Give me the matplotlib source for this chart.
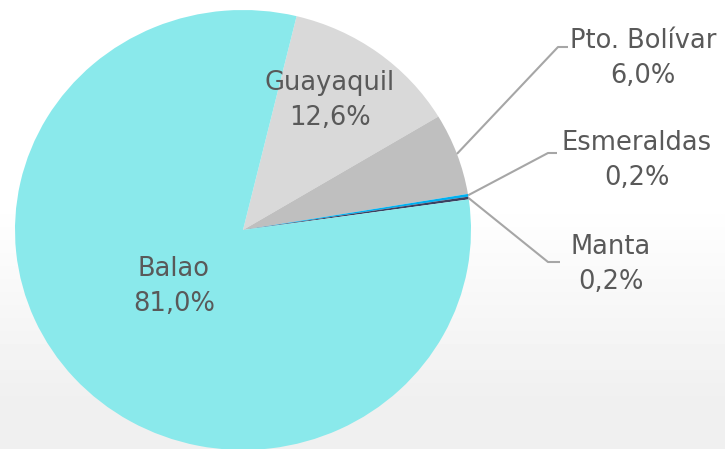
import numpy as np
import matplotlib.pyplot as plt

# shares by port, clockwise starting from the top
ports = ['Guayaquil', 'Pto. Bolívar', 'Esmeraldas', 'Manta', 'Balao']
shares = [12.6, 6.0, 0.2, 0.2, 81.0]
share_labels = ['12,6%', '6,0%', '0,2%', '0,2%', '81,0%']
colors = ['#D9D9D9', '#BFBFBF', '#00B0F0', '#3C4160', '#8AE9EB']

W, H = 725, 449
fig = plt.figure(figsize=(W / 100, H / 100), dpi=100)

# soft background: white at the top, light grey at the bottom
bg = fig.add_axes([0, 0, 1, 1], zorder=-1)
grad = np.ones((H, 1))
rows = np.arange(H)
grad[:, 0] = np.where(rows > 200, 1 - 0.06 * np.clip((rows - 200) / 200, 0, 1), 1)
bg.imshow(grad, cmap='gray', vmin=0, vmax=1, aspect='auto', extent=[0, 1, 0, 1])
bg.axis('off')

# pie axes: x from px 15..471, y from px 10..450 (top based)
cx, cy, rx, ry = 243, 230, 228, 220
ax = fig.add_axes([(cx - rx) / W, (H - cy - ry) / H, 2 * rx / W, 2 * ry / H])
wedges, _ = ax.pie(shares, colors=colors, startangle=76.4, counterclock=False,
                   wedgeprops=dict(linewidth=0))
ax.set_aspect('auto')
ax.set_xlim(-1, 1)
ax.set_ylim(-1, 1)
ax.axis('off')


def to_data(px, py):
    return (px - cx) / rx, (cy - py) / ry


txt = dict(color='#595959', fontsize=18.5, family='DejaVu Sans', ha='center',
           va='center', linespacing=1.45, clip_on=False)

# labels inside the big slices
for i, (px, py) in [(0, (330, 101)), (4, (174, 286))]:
    x, y = to_data(px, py)
    ax.text(x, y, ports[i] + '\n' + share_labels[i], **txt)

# outside labels with leader lines
outside = {1: ((558, 47), (568, 47), (643, 58)),
           2: ((548, 153), (557, 153), (637, 160)),
           3: ((548, 262), (560, 262), (611, 265))}
for i, (elbow, end, lab) in outside.items():
    w = wedges[i]
    mid = np.deg2rad((w.theta1 + w.theta2) / 2)
    ex, ey = to_data(*elbow)
    tx, ty = to_data(*end)
    ax.plot([np.cos(mid), ex, tx], [np.sin(mid), ey, ty], color='#A6A6A6',
            lw=1.5, clip_on=False, solid_capstyle='butt')
    lx, ly = to_data(*lab)
    ax.text(lx, ly, ports[i] + '\n' + share_labels[i], **txt)

fig.savefig('out.png', dpi=100)
